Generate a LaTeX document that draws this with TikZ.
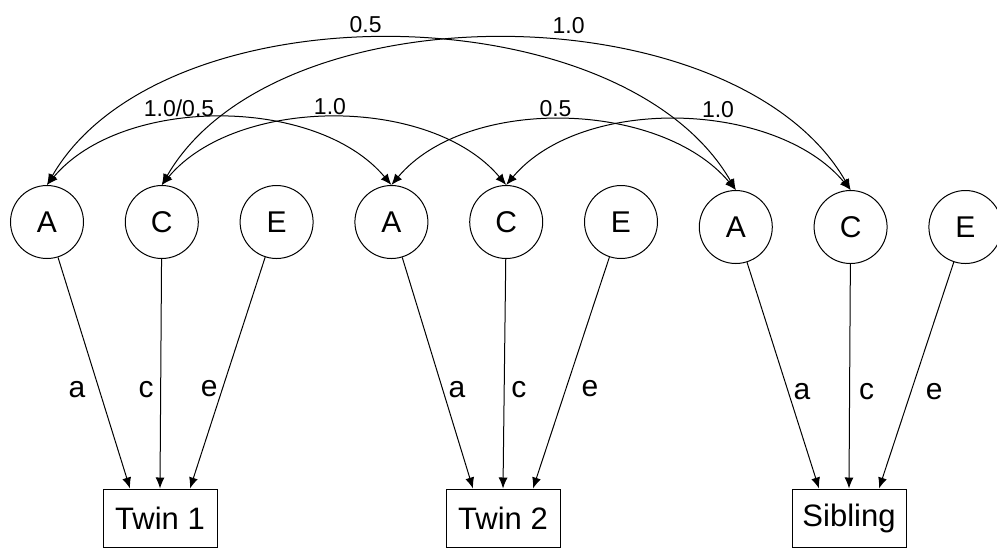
\documentclass[tikz,border=0pt]{standalone}
\usepackage{fontspec}
\setmainfont{Liberation Sans}
\usetikzlibrary{arrows.meta,positioning}

\begin{document}
\begin{tikzpicture}[node distance=57.4pt,on grid,auto,
    >={Latex[length=5.5pt,width=4.5pt]},line width=0.5pt]
       \tikzstyle{latent}=[circle,draw,minimum size=36.5pt,inner sep=0pt,font=\fontsize{15}{18}\selectfont]
       \tikzstyle{observed}=[rectangle,draw,minimum width=57pt,minimum height=29pt,font=\fontsize{15.5}{18}\selectfont]
       \tikzstyle{path label}=[font=\fontsize{15}{18}\selectfont,pos=0.57,anchor=center]
       \tikzstyle{corr}=[font=\fontsize{11.5}{14}\selectfont,inner sep=1.5pt]

       \useasboundingbox (0,0) rectangle (498.5pt,-274pt);

       \node[latent] (A_1) at (23.5pt,-111pt) {A};
       \node[latent] (C_1) [right of=A_1] {C};
       \node[latent] (E_1) [right of=C_1] {E};
       \node[latent] (A_2) [right of=E_1] {A};
       \node[latent] (C_2) [right of=A_2] {C};
       \node[latent] (E_2) [right of=C_2] {E};
       \node[latent] (A_3) [right of=E_2,yshift=-2.5pt] {A};
       \node[latent] (C_3) [right of=A_3] {C};
       \node[latent] (E_3) [right of=C_3] {E};

       \node[observed] (twin1) at (80pt,-259pt) {Twin 1};
       \node[observed] (twin2) at (251.5pt,-259pt) {Twin 2};
       \node[observed] (sib) at (424.5pt,-259pt) {Sibling};

       % paths to the observed
       \path[->,every node/.style={path label}]
       (A_1) edge node[xshift=-11pt] {a} ([xshift=-15pt]twin1.north)
       (C_1) edge node[xshift=-7.3pt] {c} (twin1.north)
       (E_1) edge node[xshift=-6.5pt] {e} ([xshift=15pt]twin1.north)
       (A_2) edge node[xshift=7.2pt] {a} ([xshift=-15pt]twin2.north)
       (C_2) edge node[xshift=7.3pt] {c} (twin2.north)
       (E_2) edge node[xshift=12pt] {e} ([xshift=15pt]twin2.north)
       (A_3) edge node[xshift=7pt] {a} ([xshift=-15pt]sib.north)
       (C_3) edge node[xshift=8.5pt] {c} (sib.north)
       (E_3) edge node[xshift=11.5pt] {e} ([xshift=15pt]sib.north);

       % correlations
       \path[<->,every node/.style={corr}]
       (A_1.north) edge[out=60,in=120,looseness=0.85] node[pos=0.47,yshift=1.5pt] {0.5} (A_3.north)
       (C_1.north) edge[out=60,in=120,looseness=0.85] node[pos=0.55,yshift=1.5pt] {1.0} (C_3.north)
       (A_1.north) edge[out=50,in=130,looseness=0.87] node[pos=0.4,anchor=south] {1.0/0.5} (A_2.north)
       (C_1.north) edge[out=50,in=130,looseness=0.87] node[pos=0.49] {1.0} (C_2.north)
       (A_2.north) edge[out=50,in=130,looseness=0.87] node[pos=0.48] {0.5} (A_3.north)
       (C_2.north) edge[out=50,in=130,looseness=0.87] node[pos=0.55] {1.0} (C_3.north);
\end{tikzpicture}
\end{document}
